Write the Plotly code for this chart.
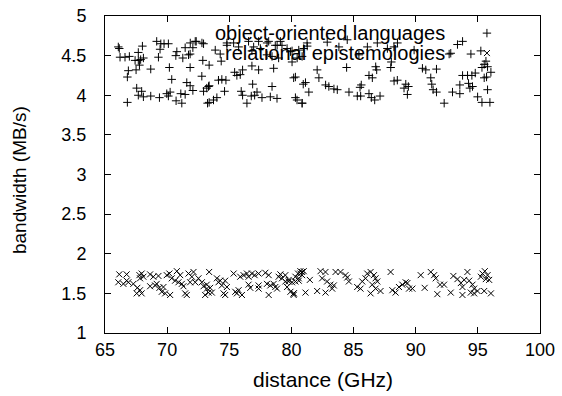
import plotly.graph_objects as go

# ---------------- data ----------------
series_names = ["object-oriented languages", "relational epistemologies"]

x_oo = [66.07, 66.15, 66.21, 66.61, 66.96, 67.68, 68.01, 67.42, 67.68, 67.87, 68.09, 67.77,
        66.88, 67.50, 66.80, 68.68, 69.16, 69.49, 69.75, 70.10, 69.43, 69.30, 70.78, 70.70,
        71.26, 71.45, 71.72, 71.85, 72.07, 72.34, 72.93, 70.18, 71.85, 70.37, 72.87, 72.79,
        67.55, 67.68, 67.95, 68.09, 68.68, 69.38, 69.97, 70.24, 70.10, 70.72, 71.18, 71.10,
        71.45, 71.58, 71.85, 72.07, 72.93, 73.33, 66.80, 73.25,
        76.55, 77.36, 78.17, 79.11, 73.87, 74.27, 74.81, 75.75, 76.82, 77.50, 78.70, 79.24,
        79.65, 80.05, 80.59, 80.99, 78.03, 78.44, 78.97, 80.05, 74.35, 73.38, 75.43, 75.88,
        76.07, 75.61, 76.82, 77.36, 78.57, 74.40, 74.73, 74.13, 80.18, 80.32, 73.38, 73.19,
        74.62, 75.96, 76.07, 76.88, 77.23, 77.04, 76.77, 78.44, 78.30, 78.84, 77.63, 80.32,
        80.45, 80.86, 74.00, 73.73, 73.38, 76.42,
        81.27, 82.88, 84.49, 85.43, 86.11, 87.72, 88.53, 80.86, 82.07, 82.21, 84.44, 86.78,
        86.86, 87.99, 88.04, 86.24, 86.51, 88.26, 81.13, 80.95, 81.40, 82.75, 83.01, 83.42,
        83.69, 84.63, 85.62, 85.52, 85.30, 85.57, 86.24, 86.43, 86.70, 87.13, 80.86,
        93.36, 93.77, 94.44, 92.69, 95.24, 95.65, 95.51, 95.78, 95.33, 96.05, 95.70, 95.51,
        90.54, 90.81, 91.67, 93.77, 94.17, 94.52, 94.79, 93.55, 94.25, 94.36, 94.57, 91.21,
        91.29, 91.40, 91.67, 89.20, 89.41, 89.06, 89.33, 92.96, 93.55, 94.98, 95.78, 95.33,
        95.97, 92.29, 88.52,
        71.86, 72.26, 72.80, 74.81, 75.35, 76.96, 78.04, 78.85, 79.92, 80.46, 81.26, 83.82,
        86.91, 88.25, 89.87, 92.82]
y_oo = [4.61, 4.59, 4.48, 4.48, 4.49, 4.54, 4.62, 4.44, 4.44, 4.45, 4.47, 4.38,
        4.31, 4.32, 4.23, 4.33, 4.68, 4.65, 4.65, 4.65, 4.58, 4.48, 4.55, 4.50,
        4.47, 4.60, 4.51, 4.52, 4.60, 4.68, 4.65, 4.35, 4.35, 4.20, 4.44, 4.24,
        4.09, 4.00, 4.05, 3.98, 3.99, 3.97, 4.02, 4.04, 3.99, 3.93, 3.90, 4.02,
        4.01, 4.16, 4.12, 4.06, 4.05, 4.11, 3.91, 3.90,
        4.68, 4.68, 4.68, 4.68, 4.57, 4.52, 4.63, 4.61, 4.56, 4.59, 4.63, 4.63,
        4.59, 4.56, 4.57, 4.59, 4.51, 4.49, 4.47, 4.42, 4.43, 4.38, 4.29, 4.26,
        4.32, 4.25, 4.37, 4.32, 4.34, 4.20, 4.19, 4.19, 4.22, 4.23, 4.12, 4.09,
        4.05, 4.05, 4.00, 4.14, 4.04, 4.00, 3.99, 4.11, 3.98, 3.96, 3.97, 3.97,
        3.94, 3.90, 3.97, 3.94, 3.91, 3.90,
        4.62, 4.67, 4.70, 4.51, 4.61, 4.59, 4.66, 4.49, 4.32, 4.22, 4.35, 4.36,
        4.32, 4.35, 4.42, 4.25, 4.22, 4.18, 4.16, 4.14, 4.04, 4.13, 4.11, 4.08,
        4.07, 4.04, 4.13, 4.10, 3.99, 3.99, 4.02, 3.97, 3.94, 3.99, 3.90,
        4.64, 4.68, 4.52, 4.52, 4.56, 4.43, 4.39, 4.36, 4.35, 4.29, 4.23, 4.22,
        4.34, 4.32, 4.33, 4.25, 4.25, 4.25, 4.28, 4.13, 4.15, 4.09, 4.11, 4.22,
        4.14, 4.07, 4.04, 4.14, 4.11, 4.09, 4.01, 4.04, 4.02, 3.98, 4.07, 3.91,
        3.91, 3.90, 4.19,
        4.66, 4.68, 4.66, 4.66, 4.66, 4.61, 4.66, 4.63, 4.55, 4.47, 4.66, 4.61,
        4.66, 4.61, 4.57, 4.53]

x_re = [66.15, 66.74, 66.07, 66.48, 66.88, 66.74, 67.28, 67.77, 67.95, 67.82, 68.09, 67.60,
        67.82, 67.55, 67.95, 68.63, 68.89, 69.30, 68.63, 69.03, 69.16, 69.38, 69.70, 69.57,
        69.84, 70.24, 69.97, 70.18, 70.37, 70.64, 70.78, 71.05, 70.91, 71.18, 71.31, 71.72,
        71.99, 72.12, 71.85, 72.26, 71.45, 71.58, 72.52, 72.79, 72.93, 73.20, 73.33, 73.06,
        73.38, 73.19, 73.46, 73.60, 74.00, 74.27, 74.13, 74.67, 74.40, 74.81, 74.54, 74.67,
        75.35, 75.48, 75.61, 75.75, 76.02, 75.88, 76.15, 76.42, 76.55, 76.82, 77.04, 77.36,
        76.55, 76.69, 77.36, 77.36, 77.90, 78.17, 78.03, 78.30, 78.57, 78.70, 78.84, 78.17,
        78.97, 79.11, 79.51, 79.78, 80.05, 79.92, 80.18, 80.32, 80.53, 80.72, 80.86, 80.59,
        80.18,
        79.24, 79.51, 79.78, 79.65, 80.19, 80.32, 80.59, 80.72, 80.86, 80.99, 81.13, 81.48,
        82.07, 82.34, 82.74, 82.47, 82.87, 83.14, 83.28, 83.41, 82.74, 83.55, 83.95, 84.35,
        84.49, 84.62, 85.29, 85.56, 85.70, 85.96, 86.10, 86.37, 86.64, 86.77, 86.50, 86.77,
        86.91, 86.37, 87.17, 87.98, 88.12, 88.38, 88.65, 88.92, 89.19, 89.33, 89.46, 89.73,
        90.40, 90.72, 91.21, 91.48, 91.61, 91.96, 92.28, 91.74, 92.82, 93.03, 93.36, 93.63,
        93.76, 93.90, 94.16, 94.30, 94.57, 94.70, 94.43, 94.97, 95.24, 95.37, 95.56, 95.78,
        95.64, 95.91, 95.51, 96.05, 93.76, 94.70]
y_re = [1.74, 1.74, 1.64, 1.62, 1.64, 1.66, 1.62, 1.73, 1.75, 1.69, 1.71, 1.57,
        1.54, 1.50, 1.50, 1.74, 1.71, 1.72, 1.59, 1.60, 1.62, 1.57, 1.58, 1.52,
        1.50, 1.48, 1.73, 1.75, 1.69, 1.66, 1.78, 1.73, 1.64, 1.62, 1.59, 1.75,
        1.71, 1.77, 1.64, 1.64, 1.50, 1.48, 1.69, 1.64, 1.59, 1.56, 1.51, 1.48,
        1.77, 1.61, 1.57, 1.51, 1.69, 1.66, 1.64, 1.66, 1.60, 1.58, 1.50, 1.48,
        1.75, 1.52, 1.50, 1.54, 1.48, 1.71, 1.73, 1.75, 1.71, 1.75, 1.73, 1.75,
        1.61, 1.57, 1.60, 1.56, 1.76, 1.73, 1.62, 1.60, 1.62, 1.58, 1.56, 1.48,
        1.71, 1.74, 1.73, 1.65, 1.64, 1.52, 1.50, 1.71, 1.75, 1.78, 1.73, 1.66,
        1.48,
        1.69, 1.65, 1.67, 1.58, 1.50, 1.65, 1.69, 1.75, 1.77, 1.78, 1.51, 1.67,
        1.53, 1.78, 1.77, 1.69, 1.65, 1.61, 1.56, 1.60, 1.51, 1.77, 1.77, 1.73,
        1.70, 1.65, 1.58, 1.56, 1.65, 1.69, 1.75, 1.77, 1.73, 1.69, 1.61, 1.56,
        1.65, 1.50, 1.53, 1.77, 1.54, 1.51, 1.58, 1.61, 1.64, 1.63, 1.56, 1.56,
        1.73, 1.57, 1.77, 1.73, 1.69, 1.61, 1.61, 1.49, 1.51, 1.72, 1.68, 1.63,
        1.58, 1.67, 1.77, 1.66, 1.61, 1.56, 1.51, 1.53, 1.71, 1.75, 1.78, 1.73,
        1.68, 1.67, 1.53, 1.50, 1.48, 1.50]

x_ticks = [65, 70, 75, 80, 85, 90, 95, 100]
y_ticks = [1, 1.5, 2, 2.5, 3, 3.5, 4, 4.5, 5]
y_tick_labels = ["1", "1.5", "2", "2.5", "3", "3.5", "4", "4.5", "5"]
x_title = "distance (GHz)"
y_title = "bandwidth (MB/s)"

FONT = "Liberation Sans, Arial, sans-serif"

fig = go.Figure()
fig.add_trace(go.Scatter(x=x_oo, y=y_oo, mode="markers", name=series_names[0],
                         marker=dict(symbol="cross-thin-open", size=6, color="black",
                                     line=dict(width=1, color="black")),
                         showlegend=False))
fig.add_trace(go.Scatter(x=x_re, y=y_re, mode="markers", name=series_names[1],
                         marker=dict(symbol="x-thin-open", size=6, color="black",
                                     line=dict(width=1, color="black")),
                         showlegend=False))

# key (gnuplot-style: right-justified text, sample to the right)
key_text_x = 0.786
key_sample_x = 0.878
key_rows_y = [0.946, 0.883]
key_symbols = ["cross-thin-open", "x-thin-open"]
for name, ky, sym in zip(series_names, key_rows_y, key_symbols):
    fig.add_annotation(xref="paper", yref="paper", x=key_text_x, y=ky, text=name,
                       showarrow=False, xanchor="right", yanchor="middle",
                       font=dict(family=FONT, size=20, color="black"))
    fig.add_trace(go.Scatter(x=[key_sample_x], y=[ky], xaxis="x2", yaxis="y2",
                             mode="markers", showlegend=False, hoverinfo="skip",
                             marker=dict(symbol=sym, size=6, color="black",
                                         line=dict(width=1, color="black"))))

# axis titles
fig.add_annotation(xref="paper", yref="paper", x=0.5, y=-0.148, text=x_title,
                   showarrow=False, xanchor="center", yanchor="middle",
                   font=dict(family=FONT, size=21, color="black"))
fig.add_annotation(xref="paper", yref="paper", x=-0.195, y=0.483, text=y_title,
                   showarrow=False, xanchor="center", yanchor="middle", textangle=-90,
                   font=dict(family=FONT, size=19, color="black"))

axis_common = dict(showgrid=False, zeroline=False, showline=True, linecolor="black",
                   linewidth=1, mirror="ticks", ticks="inside", ticklen=6,
                   tickcolor="black", automargin=False,
                   tickfont=dict(family=FONT, size=18, color="black"))

fig.update_layout(
    width=562, height=396,
    margin=dict(l=105, r=22, t=16, b=63),
    paper_bgcolor="white", plot_bgcolor="white",
    font=dict(family=FONT, color="black"),
    xaxis=dict(range=[65, 100], tickvals=x_ticks, ticklabelstandoff=0, **axis_common),
    yaxis=dict(range=[1, 5], tickvals=y_ticks, ticktext=y_tick_labels,
               ticklabelstandoff=14, **axis_common),
    xaxis2=dict(range=[0, 1], overlaying="x", visible=False),
    yaxis2=dict(range=[0, 1], overlaying="y", visible=False),
)

fig.write_html("out.html", config={"displayModeBar": False},
               post_script="document.body.style.margin='0';document.body.style.overflow='hidden';")
